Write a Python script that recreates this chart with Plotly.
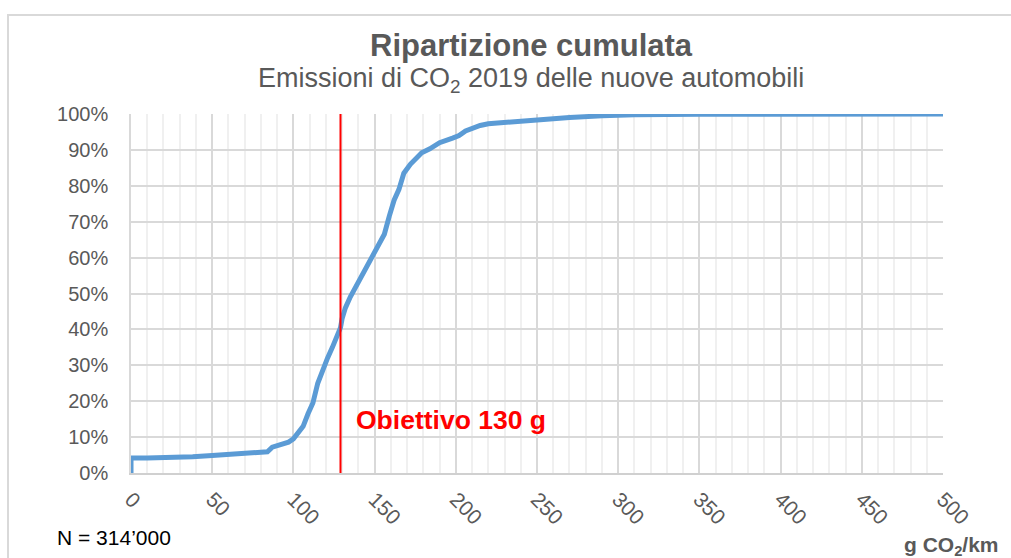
import plotly.graph_objects as go

# Cumulative distribution of CO2 emissions (g/km), share of new cars
emission_g_km = [0, 0, 10, 30, 38, 50, 60, 70, 80, 84, 87, 92, 97, 100, 103, 106, 109, 112,
                 115, 118, 121, 124, 127, 129, 130, 132, 135, 141, 147, 152, 156, 159, 162,
                 165, 168, 172, 176, 179, 184, 190, 198, 202, 206, 210, 215, 220, 235, 250,
                 270, 290, 310, 350, 400, 500]
cumulative_share = [0.0, 0.042, 0.042, 0.043, 0.045, 0.049, 0.051, 0.053, 0.056, 0.059, 0.072,
                    0.078, 0.086, 0.095, 0.11, 0.13, 0.165, 0.195, 0.25, 0.29, 0.32, 0.35,
                    0.385, 0.405, 0.43, 0.46, 0.49, 0.54, 0.594, 0.63, 0.665, 0.715, 0.76,
                    0.79, 0.835, 0.86, 0.88, 0.892, 0.903, 0.92, 0.933, 0.94, 0.953, 0.96,
                    0.968, 0.973, 0.979, 0.984, 0.99, 0.995, 0.998, 0.999, 1.0, 1.0]
target_g_km = 129
target_label = "Obiettivo 130 g"
x_ticks = [0, 50, 100, 150, 200, 250, 300, 350, 400, 450, 500]
y_ticks = [0, 0.1, 0.2, 0.3, 0.4, 0.5, 0.6, 0.7, 0.8, 0.9, 1.0]

FONT = "Liberation Sans, Arial, sans-serif"
GRAY = "#595959"

fig = go.Figure()
fig.add_trace(go.Scatter(
    x=emission_g_km, y=cumulative_share, mode="lines",
    line=dict(color="#5B9BD5", width=5), hoverinfo="skip", showlegend=False,
))
fig.add_trace(go.Scatter(
    x=[target_g_km, target_g_km], y=[0, 1], mode="lines",
    line=dict(color="#FF0000", width=2), hoverinfo="skip", showlegend=False,
))

L, R, T, B = 131, 68, 114, 85
W, H = 1011, 558
pw, ph = W - L - R, H - T - B

def px_x(px):
    return (px - L) / pw

def px_y(py):
    return (H - B - py) / ph

fig.update_layout(
    width=W, height=H,
    margin=dict(l=L, r=R, t=T, b=B),
    paper_bgcolor="white", plot_bgcolor="white",
    font=dict(family=FONT, color=GRAY, size=20),
    xaxis=dict(
        range=[0, 500], tickvals=x_ticks, ticktext=[str(v) for v in x_ticks],
        tickangle=45, showgrid=True, gridcolor="#d9d9d9", gridwidth=1.5,
        minor=dict(dtick=10, showgrid=True, gridcolor="#f0f0f0", gridwidth=1.5),
        showline=True, linecolor="#d0d0d0", linewidth=2, zeroline=False,
        ticks="outside", ticklen=4, tickcolor="rgba(0,0,0,0)",
        tickfont=dict(size=21, color=GRAY, family=FONT),
    ),
    yaxis=dict(
        range=[0, 1], tickvals=y_ticks, tickformat=".0%",
        showgrid=True, gridcolor="#d9d9d9", gridwidth=1.5,
        showline=True, linecolor="#d9d9d9", linewidth=1.5, zeroline=False,
        ticks="outside", ticklen=17, tickcolor="rgba(0,0,0,0)",
        tickfont=dict(size=20, color=GRAY, family=FONT),
    ),
)

annotations = [
    dict(text="<b>Ripartizione cumulata</b>", x=px_x(531), y=px_y(45), xref="paper", yref="paper",
         xanchor="center", yanchor="middle", showarrow=False, font=dict(size=31, color=GRAY, family=FONT)),
    dict(text="Emissioni di CO<sub>2</sub> 2019 delle nuove automobili", x=px_x(531), y=px_y(80),
         xref="paper", yref="paper", xanchor="center", yanchor="middle", showarrow=False,
         font=dict(size=27, color=GRAY, family=FONT)),
    dict(text="<b>" + target_label + "</b>", x=target_g_km + 8.5, y=0.148, xref="x", yref="y",
         xanchor="left", yanchor="middle", showarrow=False, font=dict(size=26.5, color="#FF0000", family=FONT)),
    dict(text="N = 314’000", x=px_x(55), y=px_y(537), xref="paper", yref="paper",
         xanchor="left", yanchor="middle", showarrow=False, font=dict(size=21, color="#000000", family=FONT)),
    dict(text="<b>g CO<sub>2</sub>/km</b>", x=px_x(1001), y=px_y(546), xref="paper", yref="paper",
         xanchor="right", yanchor="middle", showarrow=False, font=dict(size=21, color=GRAY, family=FONT)),
]
fig.update_layout(annotations=annotations)

fig.add_shape(type="rect", xref="paper", yref="paper",
              x0=px_x(8), x1=px_x(1030), y0=px_y(600), y1=px_y(15),
              line=dict(color="#d9d9d9", width=2), fillcolor="rgba(0,0,0,0)", layer="below")

fig.write_html("out.html", config={"displayModeBar": False},
               post_script="document.body.style.margin='0';document.body.style.overflow='hidden';")
